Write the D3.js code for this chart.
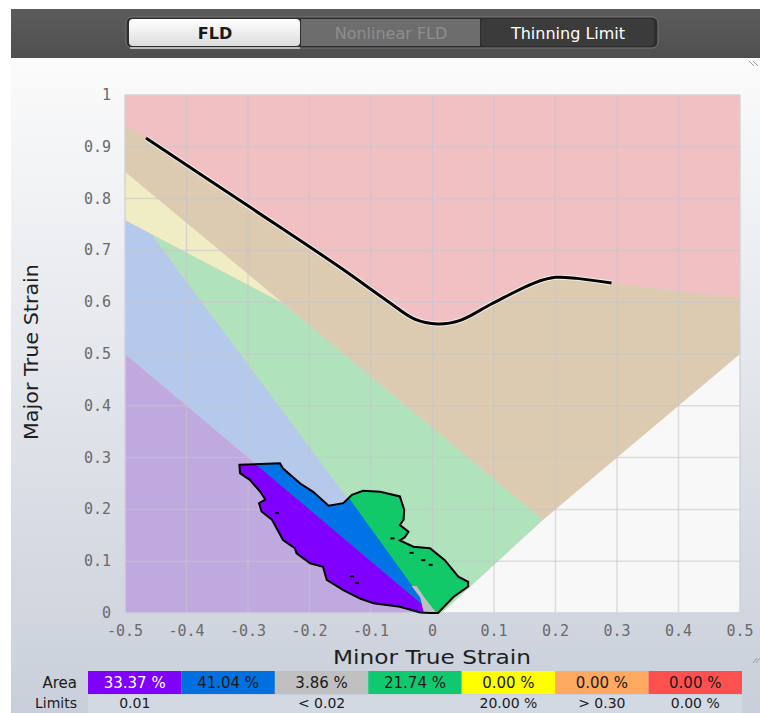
<!DOCTYPE html>
<html>
<head>
<meta charset="utf-8">
<title>FLD - Forming Limit Diagram</title>
<script src="https://d3js.org/d3.v7.min.js"></script>
<style>
  body { margin: 0; background: #fff; }
  svg { display: block; font-family: "DejaVu Sans", Verdana, sans-serif; }
  .tick-label { font-family: "DejaVu Sans Mono", monospace; font-size: 15px; fill: #6a6a6a; }
  .axis-title { font-size: 19px; fill: #1e1e1e; }
  .legend-text { font-size: 15px; }
  .limit { font-size: 14px; }
</style>
</head>
<body>
<script>

// ---- data ----
var xTicks = [-0.5, -0.4, -0.3, -0.2, -0.1, 0, 0.1, 0.2, 0.3, 0.4, 0.5];
var xTickLabels = ["-0.5", "-0.4", "-0.3", "-0.2", "-0.1", "0", "0.1", "0.2", "0.3", "0.4", "0.5"];
var yTicks = [0, 0.1, 0.2, 0.3, 0.4, 0.5, 0.6, 0.7, 0.8, 0.9, 1];
var yTickLabels = ["0", "0.1", "0.2", "0.3", "0.4", "0.5", "0.6", "0.7", "0.8", "0.9", "1"];

// forming limit curve (minor, major)
var fldCurve = [[-0.466, 0.917], [-0.3, 0.786], [-0.15, 0.667], [-0.074, 0.603], [-0.03, 0.568],
  [0.008, 0.558], [0.045, 0.565], [0.095, 0.596], [0.165, 0.637], [0.2, 0.648], [0.235, 0.646], [0.291, 0.637]];
var fldLeftEnd = [-0.5, 0.944];
var fldRightEnd = [0.5, 0.608];

// zone polygons (minor, major)
var zoneRed = [[-0.5, 1], [0.5, 1], [0.5, 0], [-0.5, 0]];
var zoneTanBottom = [[0.5, 0.5], [0.18, 0.18], [-0.5, 0.852]];
var zoneYellow = [[-0.5, 0.852], [-0.242, 0.597], [-0.5, 0.758]];
var zoneGreen = [[-0.457, 0.731], [-0.242, 0.597], [0.18, 0.18], [0.015, 0], [0, 0]];
var zoneBlue = [[-0.5, 0.758], [-0.457, 0.731], [0, 0], [-0.5, 0.5]];
var zonePurple = [[-0.5, 0.5], [0, 0], [-0.5, 0]];
var zoneWhite = [[0, 0], [0.015, 0], [0.18, 0.18], [0.5, 0.5], [0.5, 0]];
var zoneColors = { red: "#f0c0c3", tan: "#dccbb1", yellow: "#f0ecc3", green: "#b0e3bb",
  blue: "#b5c9ec", purple: "#c0a9df", white: "#f8f8f8" };

// measured strain cloud outline
var blobOutline = [[-0.314, 0.286], [-0.248, 0.289], [-0.243, 0.279], [-0.215, 0.25], [-0.194, 0.234],
  [-0.169, 0.207], [-0.145, 0.212], [-0.131, 0.228], [-0.113, 0.236], [-0.085, 0.234], [-0.053, 0.225],
  [-0.046, 0.199], [-0.047, 0.18], [-0.053, 0.17], [-0.039, 0.157], [-0.045, 0.146], [-0.053, 0.14],
  [-0.031, 0.128], [-0.004, 0.125], [0.02, 0.102], [0.042, 0.07], [0.058, 0.06], [0.058, 0.051],
  [0.034, 0.031], [0.009, 0], [-0.003, 0], [-0.02, 0.001], [-0.053, 0.012], [-0.096, 0.019],
  [-0.118, 0.028], [-0.145, 0.044], [-0.172, 0.064], [-0.178, 0.089], [-0.199, 0.096], [-0.221, 0.115],
  [-0.224, 0.125], [-0.243, 0.141], [-0.261, 0.18], [-0.278, 0.196], [-0.282, 0.212], [-0.272, 0.219],
  [-0.28, 0.234], [-0.297, 0.257], [-0.313, 0.27]];
var blobPurple = [[-0.4, 0.4], [0.01, -0.01], [-0.4, -0.01]];
var blobBlue = [[-0.4, 0.4], [-0.25, 0.41], [0.005, -0.01], [0.01, -0.01]];
var blobGray = [[-0.034, 0.052], [-0.026, 0.052], [-0.012, 0.028], [0.013, -0.01], [-0.012, -0.01], [-0.02, 0.03]];
var blobHoles = [[-0.253, 0.193], [-0.131, 0.071], [-0.123, 0.058], [-0.065, 0.144], [-0.034, 0.116],
  [-0.015, 0.102], [-0.003, 0.093]];
var blobColors = { purple: "#8000ff", blue: "#0073e6", gray: "#c0c0c0", green: "#12c96a" };

// legend
var areaLabels = ["33.37 %", "41.04 %", "3.86 %", "21.74 %", "0.00 %", "0.00 %", "0.00 %"];
var areaColors = ["#8000ff", "#0070e0", "#c0c0c0", "#10c870", "#ffff00", "#ffa860", "#ff5050"];
var areaTextColors = ["#ffffff", "#1a1a1a", "#1a1a1a", "#1a1a1a", "#1a1a1a", "#1a1a1a", "#1a1a1a"];
var limitLabels = ["0.01", "", "< 0.02", "", "20.00 %", "> 0.30", "0.00 %"];

var tabs = ["FLD", "Nonlinear FLD", "Thinning Limit"];

// ---- layout ----
var W = 760, H = 713;
var svg = d3.select("body").append("svg").attr("width", W).attr("height", H);
var defs = svg.append("defs");

var x = d3.scaleLinear().domain([-0.5, 0.5]).range([125, 740]);
var y = d3.scaleLinear().domain([0, 1]).range([613, 95]);

var panelGrad = defs.append("linearGradient").attr("id", "panelGrad")
  .attr("x1", 0).attr("y1", 0).attr("x2", 0).attr("y2", 1);
panelGrad.append("stop").attr("offset", "0%").attr("stop-color", "#fbfbfb");
panelGrad.append("stop").attr("offset", "100%").attr("stop-color", "#c9cfda");

var barGrad = defs.append("linearGradient").attr("id", "barGrad")
  .attr("x1", 0).attr("y1", 0).attr("x2", 0).attr("y2", 1);
barGrad.append("stop").attr("offset", "0%").attr("stop-color", "#5c5c5c");
barGrad.append("stop").attr("offset", "100%").attr("stop-color", "#4f4f4f");

var fldGrad = defs.append("linearGradient").attr("id", "fldGrad")
  .attr("x1", 0).attr("y1", 0).attr("x2", 0).attr("y2", 1);
fldGrad.append("stop").attr("offset", "0%").attr("stop-color", "#ffffff");
fldGrad.append("stop").attr("offset", "100%").attr("stop-color", "#dcdcdc");

// panel + toolbar
svg.append("rect").attr("x", 11).attr("y", 58).attr("width", W - 11).attr("height", H - 58)
  .attr("fill", "url(#panelGrad)");
svg.append("rect").attr("x", 11).attr("y", 9).attr("width", W - 11).attr("height", 49)
  .attr("fill", "url(#barGrad)");

var tabX = [129, 301, 481, 655];
var tabFill = ["url(#fldGrad)", "#6d6d6d", "#3b3b3b"];
var tabText = ["#1a1a1a", "#8e8e8e", "#ffffff"];
svg.append("rect").attr("x", 126).attr("y", 17).attr("width", 532).attr("height", 31).attr("rx", 6)
  .attr("fill", "#2e2e2e").attr("stroke", "#777").attr("stroke-width", 1);
tabs.forEach(function (t, i) {
  svg.append("rect").attr("x", tabX[i]).attr("y", 19).attr("width", tabX[i + 1] - tabX[i] - 1)
    .attr("height", 27).attr("rx", i === 1 ? 0 : 4).attr("fill", tabFill[i]);
  svg.append("text").attr("x", (tabX[i] + tabX[i + 1]) / 2).attr("y", 33)
    .attr("text-anchor", "middle").attr("dominant-baseline", "central")
    .attr("font-size", 16).attr("font-weight", i === 0 ? "bold" : "normal")
    .attr("fill", tabText[i]).text(t);
});
svg.append("line").attr("x1", 130).attr("x2", 300).attr("y1", 48).attr("y2", 48)
  .attr("stroke", "#d8d8d8").attr("stroke-width", 1.5);

// corner glyphs
[[749, 61], [753, 61]].forEach(function (p) {
  svg.append("line").attr("x1", p[0]).attr("y1", p[1]).attr("x2", p[0] + 5).attr("y2", p[1] + 5)
    .attr("stroke", "#9a9a9a");
});
[[753, 663], [756, 663]].forEach(function (p) {
  svg.append("line").attr("x1", p[0]).attr("y1", p[1]).attr("x2", p[0] + 4).attr("y2", p[1] - 5)
    .attr("stroke", "#9a9a9a");
});

// ---- zones ----
var poly = d3.line().x(function (d) { return x(d[0]); }).y(function (d) { return y(d[1]); });
var smooth = d3.line().curve(d3.curveCatmullRom).x(function (d) { return x(d[0]); }).y(function (d) { return y(d[1]); });
var plot = svg.append("g");

plot.append("path").attr("d", poly(zoneRed) + "Z").attr("fill", zoneColors.red);
var tanTop = [fldLeftEnd].concat(fldCurve, [fldRightEnd]);
plot.append("path").attr("d", smooth(tanTop) + poly(zoneTanBottom).replace("M", "L") + "Z")
  .attr("fill", zoneColors.tan);
plot.append("path").attr("d", poly(zoneYellow) + "Z").attr("fill", zoneColors.yellow);
plot.append("path").attr("d", poly(zoneGreen) + "Z").attr("fill", zoneColors.green);
plot.append("path").attr("d", poly(zoneBlue) + "Z").attr("fill", zoneColors.blue);
plot.append("path").attr("d", poly(zonePurple) + "Z").attr("fill", zoneColors.purple);
plot.append("path").attr("d", poly(zoneWhite) + "Z").attr("fill", zoneColors.white);

// grid
plot.append("g").selectAll("line.gx").data(xTicks).join("line")
  .attr("x1", function (d) { return x(d); }).attr("x2", function (d) { return x(d); })
  .attr("y1", y(0)).attr("y2", y(1))
  .attr("stroke", "#c4c4cc").attr("stroke-opacity", 0.55).attr("stroke-width", 1.5);
plot.append("g").selectAll("line.gy").data(yTicks).join("line")
  .attr("y1", function (d) { return y(d); }).attr("y2", function (d) { return y(d); })
  .attr("x1", x(-0.5)).attr("x2", x(0.5))
  .attr("stroke", "#c4c4cc").attr("stroke-opacity", 0.55).attr("stroke-width", 1.5);
plot.append("rect").attr("x", x(-0.5)).attr("y", y(1)).attr("width", x(0.5) - x(-0.5))
  .attr("height", y(0) - y(1)).attr("fill", "none").attr("stroke", "#d6d8e0");

// FLD curve
plot.append("path").attr("d", smooth(fldCurve)).attr("fill", "none")
  .attr("stroke", "#ffffff").attr("stroke-width", 5).attr("stroke-opacity", 0.7);
plot.append("path").attr("d", smooth(fldCurve)).attr("fill", "none")
  .attr("stroke", "#000").attr("stroke-width", 3).attr("stroke-linejoin", "round");

// ---- strain cloud ----
defs.append("clipPath").attr("id", "blobClip").append("path").attr("d", poly(blobOutline) + "Z");
var blob = plot.append("g");
blob.append("path").attr("d", poly(blobOutline) + "Z").attr("fill", blobColors.green);
var inner = blob.append("g").attr("clip-path", "url(#blobClip)");
inner.append("path").attr("d", poly(blobBlue) + "Z").attr("fill", blobColors.blue);
inner.append("path").attr("d", poly(blobPurple) + "Z").attr("fill", blobColors.purple);
inner.append("path").attr("d", poly(blobGray) + "Z").attr("fill", blobColors.gray);
inner.selectAll("rect").data(blobHoles).join("rect")
  .attr("x", function (d) { return x(d[0]) - 2; }).attr("y", function (d) { return y(d[1]) - 1; })
  .attr("width", 4).attr("height", 2).attr("fill", "#000");
blob.append("path").attr("d", poly(blobOutline) + "Z").attr("fill", "none")
  .attr("stroke", "#000").attr("stroke-width", 2).attr("stroke-linejoin", "miter");

// ---- axes labels ----
svg.append("g").selectAll("text").data(yTicks).join("text")
  .attr("class", "tick-label").attr("x", 111).attr("y", function (d) { return y(d); })
  .attr("text-anchor", "end").attr("dominant-baseline", "central")
  .text(function (d, i) { return yTickLabels[i]; });
svg.append("g").selectAll("text").data(xTicks).join("text")
  .attr("class", "tick-label").attr("x", function (d) { return x(d); }).attr("y", 631)
  .attr("text-anchor", "middle").attr("dominant-baseline", "central")
  .text(function (d, i) { return xTickLabels[i]; });

svg.append("text").attr("class", "axis-title").attr("x", 432).attr("y", 657)
  .attr("text-anchor", "middle").attr("dominant-baseline", "central")
  .attr("textLength", 198).attr("lengthAdjust", "spacingAndGlyphs").text("Minor True Strain");
svg.append("text").attr("class", "axis-title")
  .attr("transform", "translate(31,352) rotate(-90)")
  .attr("text-anchor", "middle").attr("dominant-baseline", "central")
  .attr("textLength", 176).attr("lengthAdjust", "spacingAndGlyphs").text("Major True Strain");

// ---- legend ----
var cellX = d3.scaleBand().domain(d3.range(areaLabels.length)).range([88, 742]);
var legend = svg.append("g");
legend.append("rect").attr("x", 88).attr("y", 695).attr("width", 654).attr("height", 18).attr("fill", "#d3d9e3");
legend.selectAll("rect.cell").data(areaLabels).join("rect").attr("class", "cell")
  .attr("x", function (d, i) { return cellX(i); }).attr("y", 671)
  .attr("width", cellX.bandwidth()).attr("height", 23)
  .attr("fill", function (d, i) { return areaColors[i]; });
legend.selectAll("text.area").data(areaLabels).join("text").attr("class", "legend-text area")
  .attr("x", function (d, i) { return cellX(i) + cellX.bandwidth() / 2; }).attr("y", 683)
  .attr("text-anchor", "middle").attr("dominant-baseline", "central")
  .attr("fill", function (d, i) { return areaTextColors[i]; }).text(function (d) { return d; });
legend.selectAll("text.limit").data(limitLabels).join("text").attr("class", "legend-text limit")
  .attr("x", function (d, i) { return cellX(i) + cellX.bandwidth() / 2; }).attr("y", 703)
  .attr("text-anchor", "middle").attr("dominant-baseline", "central")
  .attr("fill", "#1a1a1a").text(function (d) { return d; });
legend.append("text").attr("class", "legend-text").attr("x", 77).attr("y", 683)
  .attr("text-anchor", "end").attr("dominant-baseline", "central").attr("fill", "#1a1a1a").text("Area");
legend.append("text").attr("class", "legend-text limit").attr("x", 77).attr("y", 703)
  .attr("text-anchor", "end").attr("dominant-baseline", "central").attr("fill", "#1a1a1a").text("Limits");

</script>
</body>
</html>
